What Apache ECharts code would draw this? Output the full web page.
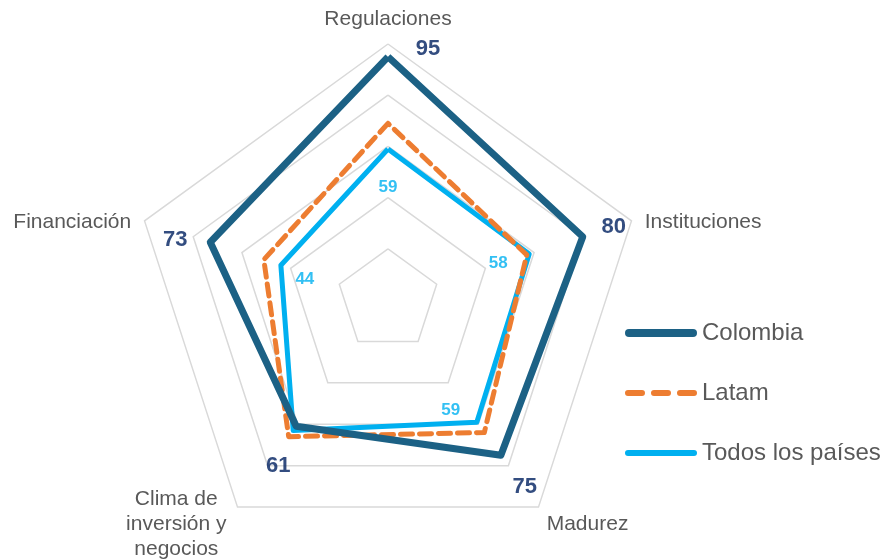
<!DOCTYPE html>
<html>
<head>
<meta charset="utf-8">
<script src="https://cdn.jsdelivr.net/npm/echarts@6/dist/echarts.min.js"></script>
<style>
html,body{margin:0;padding:0;background:#fff}
#chart{width:885px;height:559px}
</style>
</head>
<body>
<div id="chart"></div>
<script>
// indicadores en orden antihorario (como los dibuja el radar)
const categories = ['Regulaciones', 'Financiación', 'Clima de\ninversión y\nnegocios', 'Madurez', 'Instituciones'];
const colombia = [95, 73, 61, 75, 80];
const latam = [69, 51, 66, 64, 57];
const todos = [59, 44, 63, 59, 58];
const showTodosLabel = [true, true, false, true, true];

// desplazamiento de las etiquetas respecto al vértice (estilo)
const colombiaOffsets = [[40, -8], [-35, -2], [-18, 40], [24, 32], [31, -10]];
const todosOffsets = [[0, 38], [24, 14], [0, 0], [-26, -12], [-31, 9]];

const C_COL = '#1C6185', C_LAT = '#ED7D31', C_TOD = '#00B0F0';
const CENTER = [388, 300], RADIUS = 256;
const FONT = 'Arial, "Liberation Sans", sans-serif';

const labelSeries = (vals, offsets, show, color, size) => ({
  type: 'scatter',
  coordinateSystem: 'polar',
  symbolSize: 0,
  silent: true,
  z: 5,
  label: { show: true, position: 'inside', color: color, fontSize: size, fontWeight: 'bold', fontFamily: FONT, formatter: p => p.value[0] },
  data: vals.map((v, i) => ({
    value: [v, i],
    label: { show: show ? show[i] : true, offset: offsets[i] }
  }))
});

const option = {
  animation: false,
  textStyle: { fontFamily: FONT },
  legend: {
    orient: 'vertical',
    left: 620,
    top: 314,
    itemWidth: 72,
    itemHeight: 8,
    itemGap: 32,
    textStyle: { fontSize: 24, color: '#595959', lineHeight: 28, fontFamily: FONT },
    data: [
      { name: 'Colombia', icon: 'path://M4,0 H68 A4,4 0 0 1 68,8 H4 A4,4 0 0 1 4,0 Z' },
      { name: 'Latam', icon: 'path://M3,1 H17 A3,3 0 0 1 17,7 H3 A3,3 0 0 1 3,1 Z M29,1 H43 A3,3 0 0 1 43,7 H29 A3,3 0 0 1 29,1 Z M55,1 H69 A3,3 0 0 1 69,7 H55 A3,3 0 0 1 55,1 Z M0,0 M72,8' },
      { name: 'Todos los países', icon: 'path://M3,1 H69 A3,3 0 0 1 69,7 H3 A3,3 0 0 1 3,1 Z M0,0 M72,8' }
    ]
  },
  radar: {
    center: CENTER,
    radius: RADIUS,
    startAngle: 90,
    splitNumber: 5,
    shape: 'polygon',
    indicator: categories.map(n => ({ name: n, min: 0, max: 100 })),
    axisNameGap: 14,
    axisName: {
      color: '#595959',
      fontSize: 21,
      fontFamily: FONT,
      padding: [11, 0, 0, 0],
      formatter: n => n.indexOf('\n') >= 0 ? n.split('\n').map(s => '{c|' + s + '}').join('\n') : n,
      rich: { c: { width: 106, align: 'center', fontSize: 21, lineHeight: 25, color: '#595959', fontFamily: FONT } }
    },
    axisLine: { show: false },
    axisTick: { show: false },
    splitArea: { show: false },
    splitLine: { lineStyle: { color: '#D9D9D9', width: 1.5 } }
  },
  polar: { center: CENTER, radius: RADIUS },
  angleAxis: {
    type: 'category',
    data: categories,
    boundaryGap: false,
    startAngle: 90,
    clockwise: false,
    show: false
  },
  radiusAxis: { type: 'value', min: 0, max: 100, show: false },
  series: [
    {
      type: 'radar',
      symbol: 'none',
      z: 2,
      data: [
        { name: 'Todos los países', value: todos, lineStyle: { color: C_TOD, width: 5 }, itemStyle: { color: C_TOD } },
        { name: 'Latam', value: latam, lineStyle: { color: C_LAT, width: 5, type: [12, 7], cap: 'round' }, itemStyle: { color: C_LAT } },
        { name: 'Colombia', value: colombia, lineStyle: { color: C_COL, width: 7 }, itemStyle: { color: C_COL } }
      ]
    },
    labelSeries(colombia, colombiaOffsets, null, '#002060', 22),
    labelSeries(todos, todosOffsets, showTodosLabel, C_TOD, 17)
  ]
};

const chart = echarts.init(document.getElementById('chart'));
chart.setOption(option);
</script>
</body>
</html>
